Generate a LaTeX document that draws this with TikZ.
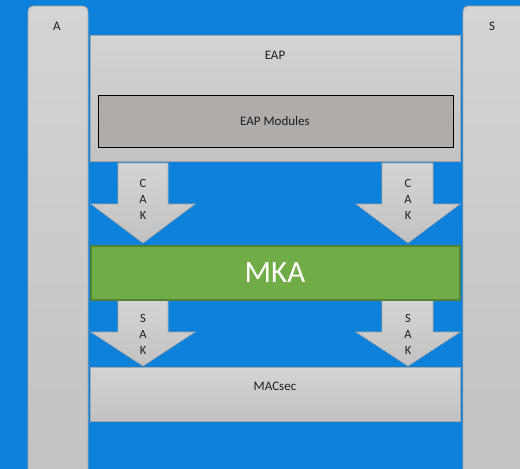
\documentclass[tikz,border=0pt]{standalone}
\usepackage{fontspec}
\setmainfont{Carlito}
\begin{document}
\begin{tikzpicture}[x=1pt,y=-1pt,
  greybox/.style={draw=boxline,line width=0.8pt,top color=gtop,bottom color=gbot},
  lbl/.style={font=\fontsize{13}{15}\selectfont,text=txt,inner sep=0pt},
  arrowlbl/.style={font=\fontsize{12.5}{16}\selectfont,text=txt,align=center,inner sep=0pt}]
\definecolor{bg}{RGB}{14,130,218}
\definecolor{gtop}{RGB}{212,212,212}
\definecolor{gbot}{RGB}{194,194,194}
\definecolor{boxline}{RGB}{166,166,166}
\definecolor{modfill}{RGB}{176,172,170}
\definecolor{mkafill}{RGB}{112,173,71}
\definecolor{mkaline}{RGB}{84,130,53}
\definecolor{txt}{RGB}{30,30,30}
\useasboundingbox (0,0) rectangle (520,469);
\clip (0,0) rectangle (520,469);
\fill[bg] (0,0) rectangle (520,469);
% side columns
\draw[greybox,rounded corners=5pt] (28,480) -- (28,6) -- (88,6) -- (88,480);
\draw[greybox,rounded corners=5pt] (463,480) -- (463,6) -- (530,6) -- (530,480);
\node[lbl] (A) at (57,26) {A};
\node[lbl] (S) at (492,26) {S};
% EAP
\draw[greybox] (90,35) rectangle (460,161);
\node[lbl] (eap) at (275,55) {EAP};
\draw[fill=modfill,draw=black,line width=1pt] (98,95) rectangle (453,147);
\node[lbl] (mod) at (275,121) {EAP Modules};
% CAK arrows
\draw[greybox,line width=0.6pt] (118,163) -- (168,163) -- (168,204) -- (195,204) -- (143,243) -- (91,204) -- (118,204) -- cycle;
\node[arrowlbl] (cak1) at (143,199) {C\\A\\K};
\draw[greybox,line width=0.6pt] (382,163) -- (433,163) -- (433,204) -- (460,204) -- (408,243) -- (356,204) -- (382,204) -- cycle;
\node[arrowlbl] (cak2) at (408,199) {C\\A\\K};
% SAK arrows
\draw[greybox,line width=0.6pt] (118,300) -- (168,300) -- (168,332) -- (195,332) -- (143,366) -- (91,332) -- (118,332) -- cycle;
\node[arrowlbl] (sak1) at (143,334) {S\\A\\K};
\draw[greybox,line width=0.6pt] (382,300) -- (433,300) -- (433,332) -- (460,332) -- (408,366) -- (356,332) -- (382,332) -- cycle;
\node[arrowlbl] (sak2) at (408,334) {S\\A\\K};
% MKA
\draw[fill=mkafill,draw=mkaline,line width=1.5pt] (91,246) rectangle (460,300);
\node[font=\fontsize{31}{34}\selectfont,text=white,inner sep=0pt] (mka) at (275,273) {MKA};
% MACsec
\draw[greybox] (90,367) rectangle (460,421);
\node[lbl] (mac) at (275,386) {MACsec};
\end{tikzpicture}
\end{document}
